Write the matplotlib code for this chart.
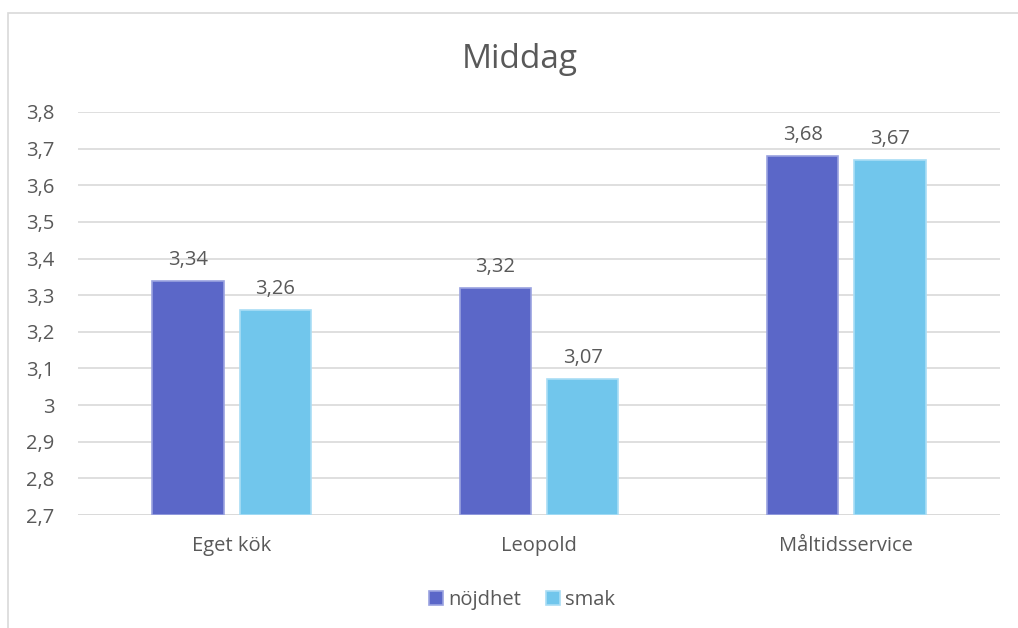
import matplotlib
matplotlib.use("Agg")
import matplotlib.pyplot as plt
import matplotlib.patches as mpatches
import numpy as np

categories = ["Eget kök", "Leopold", "Måltidsservice"]
series_names = ["nöjdhet", "smak"]
nojdhet = [3.34, 3.32, 3.68]
smak = [3.26, 3.07, 3.67]
yticks = [2.7, 2.8, 2.9, 3.0, 3.1, 3.2, 3.3, 3.4, 3.5, 3.6, 3.7, 3.8]

plt.rcParams['font.family'] = ['Open Sans', 'DejaVu Sans']
text_color = '#595959'
grid_color = '#D9D9D9'
colors = ['#5B67C8', '#71C6EC']
edges = ['#9AA2E0', '#A9DDF5']


def fmt(v):
    s = f"{v:.2f}".rstrip('0').rstrip('.')
    return s.replace('.', ',')


fig = plt.figure(figsize=(10.18, 6.28), dpi=100)
ax = fig.add_axes([78 / 1018, 1 - 515 / 628, 922 / 1018, 403 / 628])

# chart frame
fig.patches.append(mpatches.Rectangle((8 / 1018, -0.1), 1.2, 1 - 13 / 628 + 0.1,
                                      transform=fig.transFigure, fill=False,
                                      edgecolor='#D9D9D9', linewidth=1.2))

x = np.arange(len(categories))
width = 0.232
offset = 0.142

for i, (vals, name) in enumerate(zip([nojdhet, smak], series_names)):
    pos = x - offset if i == 0 else x + offset
    bars = ax.bar(pos, [v - 2.7 for v in vals], width, bottom=2.7,
                  color=colors[i], edgecolor=edges[i], linewidth=1.2,
                  label=name, zorder=3)
    for b, v in zip(bars, vals):
        ax.text(b.get_x() + b.get_width() / 2, v + 0.03, fmt(v),
                ha='center', va='bottom', fontsize=14.5, color=text_color)

ax.set_ylim(2.7, 3.8)
ax.set_xlim(-0.5, 2.5)
ax.set_yticks(yticks)
ax.set_yticklabels([fmt(t) for t in yticks])
ax.set_xticks(x)
ax.set_xticklabels(categories)
ax.tick_params(axis='both', length=0, labelsize=14.5, labelcolor=text_color)
ax.tick_params(axis='y', pad=17)
ax.tick_params(axis='x', pad=15)
ax.yaxis.grid(True, color=grid_color, linewidth=1.2, zorder=0)
for s in ax.spines.values():
    s.set_visible(False)
ax.axhline(2.7, color=grid_color, linewidth=1.2, zorder=1)

fig.text(520 / 1018, 1 - 60 / 628, "Middag", ha='center', va='center',
         fontsize=24, color=text_color)

fig.legend(loc='center', bbox_to_anchor=(522 / 1018, 1 - 600 / 628), ncol=2,
           frameon=False, fontsize=14.5, labelcolor=text_color,
           handlelength=0.7, handleheight=0.7, handletextpad=0.25,
           columnspacing=1.2)

fig.savefig("out.png", dpi=100)
